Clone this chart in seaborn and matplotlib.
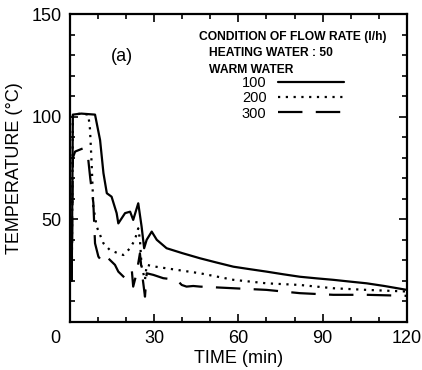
import matplotlib
matplotlib.use("Agg")
import matplotlib.pyplot as plt
import matplotlib.transforms as mtransforms
import seaborn as sns
import numpy as np
import pandas as pd
from matplotlib.ticker import MultipleLocator, FixedLocator

# ---- data ----
t_100 = [0.6, 1.0, 4.0, 8.9, 10.7, 11.9, 13.1, 14.8, 16.6, 17.2, 19.6, 21.4, 22.5, 24.3,
         25.5, 26.4, 27.3, 29.1, 30.9, 34.4, 40.0, 46.3, 52.0, 58.2, 64.0, 70.0, 76.0,
         81.9, 88.0, 93.8, 100.0, 105.7, 112.0, 120.0]
T_100 = [20, 101, 101.5, 101, 88.6, 72.5, 62.7, 61, 53, 48, 53, 53.7, 49.7, 57.8,
         46.4, 35.9, 40, 44, 40, 35.9, 33.5, 31, 29, 26.9, 25.7, 24.5, 23.2,
         22, 21.2, 20.5, 19.6, 18.8, 17.5, 15.6]

t_200 = [0.6, 1.0, 4.0, 6.5, 7.1, 7.7, 8.3, 9.5, 11.9, 14.2, 17.2, 19.0, 21.4, 23.1,
         24.3, 24.9, 25.5, 26.7, 27.3, 30.0, 34.4, 46.3, 58.2, 70.0, 81.9, 93.8,
         105.7, 120.0]
T_200 = [20, 101, 101.5, 101, 94, 77, 56, 46.4, 38.3, 35, 33.4, 32.6, 35.9, 40,
         45.6, 40, 27, 20.5, 27.8, 27, 26.1, 23.7, 20.5, 18.8, 18, 16.4,
         15.6, 14.8]

t_300 = [0.6, 1.0, 1.8, 4.7, 6.5, 7.2, 8.3, 8.9, 10.1, 11.9, 13.6, 14.8, 16.0, 17.2,
         19.6, 20.8, 22.0, 22.5, 23.7, 24.9, 25.5, 26.1, 26.7, 27.3, 29.7, 33.2,
         38.0, 39.8, 41.5, 43.9, 46.3, 58.2, 70.0, 81.9, 93.8, 105.7, 120.0]
T_300 = [20, 80, 83, 84.6, 79, 70, 58, 38.3, 31.8, 28.6, 31, 29.4, 27.8, 24.5,
         21.3, 23.7, 25.3, 17.2, 23.7, 33.4, 25.3, 18.8, 12.3, 23.7, 22.9, 21.3,
         20.5, 18, 17.2, 17.5, 17.2, 16.4, 15.6, 14, 13.2, 13.2, 12.7]

x_ticks = [0, 30, 60, 90, 120]
y_ticks = [50, 100, 150]
series_labels = ["100", "200", "300"]

# ---- figure ----
sns.set_style("ticks")
plt.rcParams["font.family"] = ["Liberation Sans", "DejaVu Sans"]
plt.rcParams["text.color"] = "black"
plt.rcParams["axes.labelcolor"] = "black"
plt.rcParams["xtick.color"] = "black"
plt.rcParams["ytick.color"] = "black"

fig = plt.figure(figsize=(4.22, 3.70), dpi=100)
ax = fig.add_axes([0.166, 0.130, 0.798, 0.832])

styles = ["-", (0, (1, 2.5)), (0, (11, 6))]
for tt, TT, lab, ls in zip([t_100, t_200, t_300], [T_100, T_200, T_300],
                           series_labels, styles):
    sns.lineplot(x=tt, y=TT, ax=ax, color="black", linewidth=1.6,
                 linestyle=ls, label=lab, sort=False, estimator=None)

ax.set_xlim(0, 120)
ax.set_ylim(0, 150)
ax.xaxis.set_major_locator(FixedLocator(x_ticks))
ax.yaxis.set_major_locator(FixedLocator(y_ticks))
ax.xaxis.set_minor_locator(MultipleLocator(10))
ax.yaxis.set_minor_locator(MultipleLocator(10))
ax.tick_params(which="both", direction="in", top=True, right=True, width=1.2,
               colors="black")
ax.tick_params(which="major", length=6, labelsize=13, pad=6)
ax.tick_params(which="minor", length=3.5)
for s in ax.spines.values():
    s.set_linewidth(1.6)
    s.set_color("black")

ax.set_xticklabels([str(v) for v in x_ticks])
ax.set_yticklabels([str(v) for v in y_ticks])
lbl0 = ax.get_xticklabels()[0]
lbl0.set_transform(lbl0.get_transform() +
                   mtransforms.ScaledTranslation(-15 / 100, 0, fig.dpi_scale_trans))

ax.set_xlabel("TIME (min)", fontsize=13, labelpad=2)
ax.set_ylabel("TEMPERATURE (°C)", fontsize=13, labelpad=6)

hdr = dict(transform=ax.transAxes, fontsize=8.7, fontweight="bold",
           va="center", ha="left")
ax.text(0.382, 0.926, "CONDITION OF FLOW RATE (l/h)", **hdr)
ax.text(0.412, 0.874, "HEATING WATER : 50", **hdr)
ax.text(0.412, 0.818, "WARM WATER", **hdr)
ax.text(0.12, 0.862, "(a)", transform=ax.transAxes, fontsize=13, va="center")

leg = ax.legend(loc="upper left", bbox_to_anchor=(0.51, 0.80), frameon=False,
                markerfirst=False, handlelength=4.5, handletextpad=0.8,
                labelspacing=0.1, fontsize=10.5, borderaxespad=0, borderpad=0)

fig.savefig("out.png", dpi=100)
